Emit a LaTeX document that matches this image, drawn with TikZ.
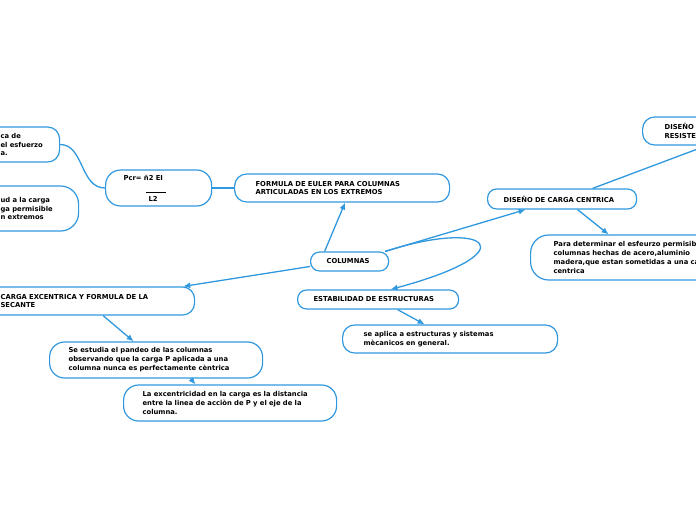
\documentclass[tikz,border=0pt]{standalone}
\usepackage{fontspec}
\setmainfont{DejaVu Sans}
\usetikzlibrary{arrows.meta}
\definecolor{mapblue}{RGB}{48,152,222}

\begin{document}
\begin{tikzpicture}[x=1pt, y=-1pt, font=\fontsize{6.8}{8.9}\selectfont\bfseries,
    idea/.style={draw=mapblue, line width=1.2pt, rounded corners=12pt, align=left, anchor=west, inner ysep=0pt},
    link/.style={draw=mapblue, line width=1.3pt},
    linkarr/.style={link, -{Latex[length=7pt, width=6pt]}}]
  \useasboundingbox (0,0) rectangle (696,520);
  \clip (0,0) rectangle (696,520);
  % left branch: formula
  \node[idea, text width=44pt, inner xsep=15pt, minimum height=35pt] (crit) at (-15,144.5) {ca de\\el esfuerzo\\a.};
  \node[idea, text width=53pt, inner xsep=25pt, minimum height=45pt, rounded corners=18pt] (carga) at (-25,208.5) {ud a la carga\\ga permisible\\n extremos};
  \node[idea, text width=70pt, inner xsep=18pt, minimum height=36pt, rounded corners=15pt] (pcr) at (105,188)
    {Pcr= ñ2 EI\\[3pt]\hspace*{22pt}\rule{20pt}{0.6pt}\\[0pt]\hspace*{25pt}L2};
  \node[idea, text width=173pt, inner xsep=21pt, minimum height=28pt] (euler) at (234,188) {FORMULA DE EULER PARA COLUMNAS\\ARTICULADAS EN LOS EXTREMOS};
  % centre
  \node[idea, text width=46pt, inner xsep=16pt, minimum height=19pt, rounded corners=9pt] (col) at (310,261.5) {COLUMNAS};
  % right branch: design
  \node[idea, text width=117pt, inner xsep=16pt, minimum height=20pt, rounded corners=9pt] (dcc) at (487,199) {DISEÑO DE CARGA CENTRICA};
  \node[idea, text width=84pt, inner xsep=22pt, minimum height=28pt] (diseno) at (642,131) {DISEÑO\\RESISTENCIA};
  \node[idea, text width=200pt, inner xsep=23pt, minimum height=45pt, rounded corners=18pt] (para) at (530,257.5)
    {Para determinar el esfeurzo permisible\\columnas hechas de acero,aluminio\\madera,que estan sometidas a una carga\\centrica};
  % stability
  \node[idea, text width=129pt, inner xsep=16pt, minimum height=19pt, rounded corners=9pt] (estab) at (297,299.5) {ESTABILIDAD DE ESTRUCTURAS};
  \node[idea, text width=173pt, inner xsep=21pt, minimum height=28pt] (aplica) at (342,339) {se aplica a estructuras y sistemas\\mècanicos en general.};
  % eccentric load
  \node[idea, text width=169pt, inner xsep=25pt, minimum height=28pt] (excen) at (-25,301) {CARGA EXCENTRICA Y FORMULA DE LA\\SECANTE};
  \node[idea, text width=175pt, inner xsep=19pt, minimum height=36pt, rounded corners=15pt] (pandeo) at (49,360)
    {Se estudia el pandeo de las columnas\\observando que la carga P aplicada a una\\columna nunca es perfectamente cèntrica};
  \node[idea, text width=175pt, inner xsep=19pt, minimum height=36pt, rounded corners=15pt] (excent) at (123,403)
    {La excentricidad en la carga es la distancia\\entre la linea de acciòn de P y el eje de la\\columna.};

  \draw[link] (crit.east) .. controls (84,144.5) and (80,188) .. (pcr.west);
  \draw[link] (pcr.east) -- (euler.west);
  \draw[linkarr] ([xshift=-25pt]col.north) -- ([xshift=3pt]euler.south);
  \draw[linkarr] ([xshift=-4pt]col.north east) -- ([xshift=-36.5pt]dcc.south);
  \draw[linkarr] ([xshift=-4pt]col.north east) .. controls (488,218) and (530,252) .. ([xshift=12.5pt]estab.north);
  \draw[linkarr] ([yshift=-5pt]col.west) -- ([xshift=-12pt]excen.north east);
  \draw[link] ([xshift=30.5pt]dcc.north) -- (diseno.south);
  \draw[linkarr] ([xshift=15.5pt]dcc.south) -- ([xshift=-45pt]para.north);
  \draw[linkarr] ([xshift=19.5pt]estab.south) -- ([xshift=-25.5pt]aplica.north);
  \draw[linkarr] ([xshift=18pt]excen.south) -- ([xshift=-22.5pt]pandeo.north);
  \draw[linkarr] ([xshift=34.5pt]pandeo.south) -- ([xshift=-34.5pt]excent.north);
\end{tikzpicture}
\end{document}
